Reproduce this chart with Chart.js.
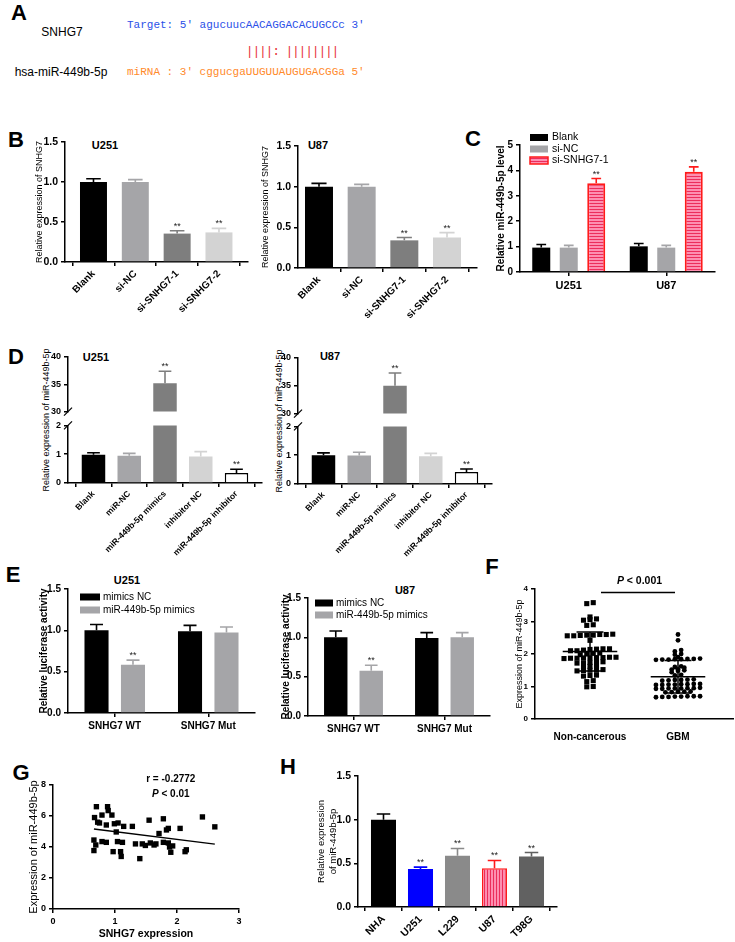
<!DOCTYPE html>
<html>
<head>
<meta charset="utf-8">
<title>SNHG7 / miR-449b-5p</title>
<script src="https://cdn.jsdelivr.net/npm/chart.js@4.4.1/dist/chart.umd.min.js"></script>
<style>
  html, body { margin: 0; padding: 0; background: #fff; }
  body { position: relative; width: 735px; height: 942px; overflow: hidden; font-family: 'Liberation Sans', Arial, sans-serif; color: #000; }
  canvas { position: absolute; }
  .c { position: absolute; transform: translate(-50%, -50%); white-space: nowrap; line-height: 1; }
  .m { position: absolute; transform: translateY(-50%); white-space: pre; line-height: 1; font-family: 'Liberation Mono', 'DejaVu Sans Mono', monospace; font-size: 11px; }
  .letter { font-weight: bold; font-size: 22px; }
  .sub { font-weight: bold; font-size: 11px; }
  .yt { font-size: 9px; transform: translate(-50%, -50%) rotate(-90deg); }
</style>
</head>
<body>
<!-- panel letters -->
<div class="c letter" style="left:19px;top:13px">A</div>
<div class="c letter" style="left:16px;top:140px">B</div>
<div class="c letter" style="left:473px;top:139px">C</div>
<div class="c letter" style="left:16px;top:357px">D</div>
<div class="c letter" style="left:13px;top:575px">E</div>
<div class="c letter" style="left:492px;top:567px">F</div>
<div class="c letter" style="left:21px;top:773px">G</div>
<div class="c letter" style="left:288px;top:767px">H</div>

<!-- A: binding site -->
<div class="c" style="left:62px;top:32px;font-size:12px">SNHG7</div>
<div class="c" style="left:61px;top:72px;font-size:12px">hsa-miR-449b-5p</div>
<div class="m" style="left:127px;top:25px;color:#2b50e8">Target: 5' agucuucAACAGGACACUGCCc 3'</div>
<div class="m" style="left:245.8px;top:51px;color:#e8343c;font-size:13px;letter-spacing:-1.2px">||||: ||||||||</div>
<div class="m" style="left:127px;top:72px;color:#ff8a2b">miRNA : 3' cggucgaUUGUUAUGUGACGGa 5'</div>

<!-- sub titles -->
<div class="c sub" style="left:105px;top:145px">U251</div>
<div class="c sub" style="left:318px;top:145px">U87</div>
<div class="c sub" style="left:96px;top:357px">U251</div>
<div class="c sub" style="left:330px;top:356px">U87</div>
<div class="c sub" style="left:127px;top:580px">U251</div>
<div class="c sub" style="left:405px;top:590px">U87</div>

<!-- D axis titles (span both halves of the broken axis) -->
<div class="c yt" style="left:46px;top:420px">Relative expression of miR-449b-5p</div>
<div class="c yt" style="left:279px;top:421px">Relative expression of miR-449b-5p</div>

<script>
const FONT = "'Liberation Sans', Arial, Helvetica, sans-serif";
const BLACK = '#000000';

// ---------- values ----------
// B: SNHG7 after knock-down
const bLabels = ['Blank', 'si-NC', 'si-SNHG7-1', 'si-SNHG7-2'];
const bU251 = [1.0, 1.0, 0.355, 0.37];
const bU251Err = [0.04, 0.03, 0.035, 0.05];
const bU87 = [1.0, 1.0, 0.34, 0.375];
const bU87Err = [0.04, 0.028, 0.035, 0.06];
const bMarks = ['', '', '**', '**'];

// C: miR-449b-5p after knock-down
const cLabels = ['U251', 'U87'];
const cSeries = ['Blank', 'si-NC', 'si-SNHG7-1'];
const cBlank = [0.96, 1.01];
const cBlankErr = [0.12, 0.11];
const cSiNC = [0.96, 0.96];
const cSiNCErr = [0.09, 0.09];
const cSiSNHG7 = [3.49, 3.95];
const cSiSNHG7Err = [0.19, 0.19];
const cMarks = ['**', '**'];

// D: mimics / inhibitor
const dLabels = ['Blank', 'miR-NC', 'miR-449b-5p mimics', 'inhibitor NC', 'miR-449b-5p inhibitor'];
const dU251 = [0.98, 0.95, 35.2, 0.92, 0.345];
const dU251Err = [0.07, 0.08, 2.2, 0.17, 0.135];
const dU87 = [1.0, 0.99, 35.0, 0.965, 0.42];
const dU87Err = [0.08, 0.11, 2.3, 0.1, 0.1];
const dMarks = ['', '', '**', '', '**'];

// E: luciferase
const eLabels = ['SNHG7 WT', 'SNHG7 Mut'];
const eSeries = ['mimics NC', 'miR-449b-5p mimics'];
const eU251NC = [1.0, 0.99];
const eU251NCErr = [0.07, 0.07];
const eU251Mim = [0.585, 0.975];
const eU251MimErr = [0.055, 0.065];
const eU87NC = [1.0, 0.99];
const eU87NCErr = [0.08, 0.07];
const eU87Mim = [0.575, 1.0];
const eU87MimErr = [0.07, 0.06];
const eMimMarks = ['**', ''];

// F: tissue expression
const fGroups = ['Non-cancerous', 'GBM'];
const fNonCancerous = [3.58, 3.55, 3.14, 3.08, 3.06, 3.04, 2.9, 2.88,
  2.61, 2.6, 2.58, 2.57, 2.56, 2.56, 2.6, 2.58, 2.42,
  2.16, 2.15, 2.14, 2.12, 2.1, 2.16, 2.1, 2.03, 2.0, 1.98, 2.02,
  1.9, 1.89, 1.88, 1.87, 1.9, 1.86, 1.88, 1.89, 1.87,
  1.76, 1.74, 1.72, 1.75, 1.73, 1.63, 1.6, 1.62,
  1.5, 1.48, 1.52, 1.49, 1.5, 1.35, 1.32, 1.34, 1.18, 1.15, 0.99, 1.0];
const fGBM = [2.6, 2.42, 2.12, 2.08, 2.0, 1.98, 1.9,
  1.85, 1.84, 1.83, 1.85, 1.82, 1.84, 1.83, 1.86,
  1.62, 1.6, 1.58, 1.5, 1.52, 1.48, 1.53, 1.44, 1.36, 1.34,
  1.2, 1.22, 1.18, 1.21, 1.19, 1.2,
  1.08, 1.06, 1.07, 1.05, 1.08, 1.06, 1.07, 1.05,
  0.95, 0.94, 0.93, 0.96, 0.94, 0.95, 0.93, 0.94,
  0.84, 0.83, 0.85, 0.82, 0.84,
  0.7, 0.68, 0.69, 0.7, 0.67, 0.69, 0.68, 0.7];
const fMean = [2.08, 1.3];
const fSD = [0.6, 0.5];

// G: correlation
const gSNHG7 = [0.70, 0.67, 0.72, 0.79, 0.88, 0.89, 0.95, 0.86, 0.99, 1.05, 1.14, 1.28, 1.02, 0.66, 0.69, 0.66,
  0.79, 0.86, 0.97, 1.04, 1.12, 1.09, 1.10, 1.33, 1.40, 1.44, 1.49, 1.55, 1.57, 1.63, 1.66, 1.71,
  1.78, 1.78, 1.83, 1.86, 1.86, 1.88, 1.90, 1.93, 2.05, 2.13, 2.15, 2.41, 2.61, 0.75];
const gMiR = [6.60, 5.90, 5.60, 6.06, 6.60, 6.35, 6.06, 5.42, 5.50, 5.55, 5.33, 5.33, 4.97, 4.45, 4.13, 3.77,
  4.35, 4.30, 3.70, 4.35, 4.30, 3.70, 3.39, 4.20, 3.25, 4.20, 4.10, 5.73, 4.26, 4.13, 4.20, 4.87,
  5.82, 4.30, 5.10, 5.20, 4.26, 4.00, 3.66, 4.07, 5.20, 3.70, 3.82, 5.94, 5.30, 5.55];
const gFit = [-0.5, 5.49]; // slope, intercept of the drawn fit

// H: cell lines
const hLabels = ['NHA', 'U251', 'L229', 'U87', 'T98G'];
const hValues = [1.0, 0.434, 0.586, 0.445, 0.579];
const hErr = [0.065, 0.023, 0.084, 0.088, 0.045];
const hMarks = ['', '**', '**', '**', '**'];

// ---------- styles ----------
function stripes(vertical, light, dark) {
  const t = document.createElement('canvas');
  t.width = 3; t.height = 3;
  const g = t.getContext('2d');
  g.fillStyle = light; g.fillRect(0, 0, 3, 3);
  g.fillStyle = dark;
  if (vertical) g.fillRect(0, 0, 1, 3); else g.fillRect(0, 0, 3, 1);
  return g.createPattern(t, 'repeat');
}
const RED = '#ff1a1a';
const redH = stripes(false, '#fd8fb0', '#ec2d5c');
const redV = stripes(true, '#fd8fb0', '#ec2d5c');
const bColors = ['#000000', '#a5a5a8', '#7e7e7e', '#d3d3d3'];
const dColors = ['#000000', '#a5a5a8', '#7e7e7e', '#d3d3d3', '#ffffff'];
const dBorders = ['#000000', '#a5a5a8', '#7e7e7e', '#d3d3d3', '#000000'];
const dBorderW = [0, 0, 0, 0, 1.5];
const hColors = ['#000000', '#0000ff', '#8a8a8a', redV, '#616161'];
const hBorders = ['#000000', '#0000ff', '#8a8a8a', RED, '#616161'];
const hBorderW = [0, 0, 0, 1.5, 0];
const hErrColors = ['#000000', '#0000ff', '#8a8a8a', RED, '#616161'];

// ---------- plugins ----------
const errorBars = {
  id: 'errorBars',
  afterDatasetsDraw(chart) {
    const ctx = chart.ctx;
    chart.data.datasets.forEach((ds, di) => {
      if (!ds.errors) return;
      const meta = chart.getDatasetMeta(di);
      const ys = chart.scales[meta.yAxisID];
      meta.data.forEach((bar, i) => {
        const raw = ds.data[i];
        const v = typeof raw === 'object' ? raw.y : raw;
        const top = v + ds.errors[i];
        if (v < ys.min || top > ys.max) return;
        const y0 = ys.getPixelForValue(v), y1 = ys.getPixelForValue(top);
        const half = bar.width * 0.27;
        const col = Array.isArray(ds.errorColor) ? ds.errorColor[i] : ds.errorColor;
        ctx.save();
        ctx.strokeStyle = col;
        ctx.lineWidth = 1.6;
        ctx.beginPath();
        ctx.moveTo(bar.x, y0); ctx.lineTo(bar.x, y1);
        ctx.moveTo(bar.x - half, y1); ctx.lineTo(bar.x + half, y1);
        ctx.stroke();
        const mark = ds.marks && ds.marks[i];
        if (mark) {
          ctx.fillStyle = '#222';
          ctx.font = '9px ' + FONT;
          ctx.textAlign = 'center';
          ctx.textBaseline = 'alphabetic';
          ctx.fillText(mark, bar.x, y1 - 2);
        }
        ctx.restore();
      });
    });
  }
};
Chart.register(errorBars);

function legendPlugin(o) {
  return {
    id: 'boxLegend',
    afterDraw(chart) {
      const { ctx, chartArea: a } = chart;
      ctx.save();
      ctx.font = o.size + 'px ' + FONT;
      ctx.textBaseline = 'middle';
      ctx.textAlign = 'left';
      chart.data.datasets.forEach((ds, i) => {
        const x = a.left + o.x, y = a.top + o.y + i * o.gap;
        ctx.fillStyle = ds.backgroundColor;
        ctx.fillRect(x, y - o.box[1] / 2, o.box[0], o.box[1]);
        if (ds.borderWidth) {
          ctx.strokeStyle = ds.borderColor;
          ctx.lineWidth = 1.5;
          ctx.strokeRect(x, y - o.box[1] / 2, o.box[0], o.box[1]);
        }
        ctx.fillStyle = BLACK;
        ctx.fillText(ds.label, x + o.box[0] + o.pad, y);
      });
      ctx.restore();
    }
  };
}

function breakPlugin(edge) {
  return {
    id: 'axisBreak',
    afterDraw(chart) {
      const { ctx, chartArea: a } = chart;
      const y = edge === 'top' ? a.top : a.bottom;
      ctx.save();
      ctx.strokeStyle = BLACK;
      ctx.lineWidth = 1.2;
      ctx.beginPath();
      ctx.moveTo(a.left - 4, y + 4);
      ctx.lineTo(a.left + 4, y - 4);
      ctx.stroke();
      ctx.restore();
    }
  };
}

function meanSDPlugin(centers, means, sds, halfMean, halfSD) {
  return {
    id: 'meanSD',
    afterDatasetsDraw(chart) {
      const { ctx, scales: { x, y } } = chart;
      ctx.save();
      ctx.strokeStyle = BLACK;
      ctx.lineWidth = 1.5;
      centers.forEach((c, i) => {
        const xc = x.getPixelForValue(c);
        const ym = y.getPixelForValue(means[i]);
        const yt = y.getPixelForValue(means[i] + sds[i]);
        const yb = y.getPixelForValue(means[i] - sds[i]);
        ctx.beginPath();
        ctx.moveTo(x.getPixelForValue(c - halfMean), ym); ctx.lineTo(x.getPixelForValue(c + halfMean), ym);
        ctx.moveTo(xc, yt); ctx.lineTo(xc, yb);
        ctx.moveTo(x.getPixelForValue(c - halfSD), yt); ctx.lineTo(x.getPixelForValue(c + halfSD), yt);
        ctx.moveTo(x.getPixelForValue(c - halfSD), yb); ctx.lineTo(x.getPixelForValue(c + halfSD), yb);
        ctx.stroke();
      });
      ctx.restore();
    }
  };
}

function notesPlugin(texts, lines, size) {
  return {
    id: 'notes',
    afterDraw(chart) {
      const { ctx, scales: { x, y } } = chart;
      ctx.save();
      ctx.fillStyle = BLACK;
      ctx.strokeStyle = BLACK;
      ctx.lineWidth = 1.5;
      ctx.textBaseline = 'middle';
      ctx.textAlign = 'left';
      lines.forEach(l => {
        const py = y.getPixelForValue(l[2]);
        ctx.beginPath();
        ctx.moveTo(x.getPixelForValue(l[0]), py);
        ctx.lineTo(x.getPixelForValue(l[1]), py);
        ctx.stroke();
      });
      texts.forEach(t => {
        const fonts = t.parts.map(p => (p[1] ? 'italic ' : '') + 'bold ' + size + 'px ' + FONT);
        const widths = t.parts.map((p, i) => { ctx.font = fonts[i]; return ctx.measureText(p[0]).width; });
        let px = x.getPixelForValue(t.x) - widths.reduce((a, b) => a + b, 0) / 2;
        const py = y.getPixelForValue(t.y);
        t.parts.forEach((p, i) => { ctx.font = fonts[i]; ctx.fillText(p[0], px, py); px += widths[i]; });
      });
      ctx.restore();
    }
  };
}

// ---------- helpers ----------
function font(size, bold) { return { family: FONT, size, weight: bold ? 'bold' : 'normal' }; }
const axisLine = { color: BLACK, width: 1.5 };
const tickGrid = { drawOnChartArea: false, tickLength: 4, color: BLACK, lineWidth: 1.5 };

function yTitle(text, size, bold) {
  return { display: true, text, font: font(size, bold), color: BLACK, padding: 0 };
}
function yAxis(min, max, step, digits, size, title) {
  return {
    min, max,
    ticks: { stepSize: step, font: font(size, true), color: BLACK, padding: 3, callback: v => v.toFixed(digits) },
    grid: tickGrid,
    border: axisLine,
    title: title || { display: false }
  };
}
function xIndex(labels, range, size) {
  return {
    type: 'linear', min: range[0], max: range[1], offset: false,
    ticks: { stepSize: 1, includeBounds: false, autoSkip: false, minRotation: 45, maxRotation: 45,
             font: font(size, true), color: BLACK, padding: 2, callback: v => labels[v] ?? '' },
    grid: tickGrid,
    border: axisLine
  };
}
function xCategory(size) {
  return {
    ticks: { font: font(size, true), color: BLACK, padding: 3, maxRotation: 0, autoSkip: false },
    grid: Object.assign({ offset: false }, tickGrid),
    border: axisLine
  };
}

// box = [x, y, w, h] of the canvas, area = [left, top, right, bottom] of the plot area
function place(box, area, config) {
  const cv = document.createElement('canvas');
  cv.width = box[2]; cv.height = box[3];
  Object.assign(cv.style, { left: box[0] + 'px', top: box[1] + 'px', width: box[2] + 'px', height: box[3] + 'px' });
  document.body.appendChild(cv);
  const o = config.options;
  Object.assign(o, { responsive: false, animation: false, devicePixelRatio: 1, events: [] });
  o.layout = { autoPadding: false, padding: { left: 0, bottom: 0, top: area[1] - box[1], right: box[0] + box[2] - area[2] } };
  o.scales.x.afterFit = s => { s.height = box[1] + box[3] - area[3]; };
  o.scales.y.afterFit = s => { s.width = area[0] - box[0]; };
  o.plugins = Object.assign({ legend: { display: false }, tooltip: { enabled: false } }, o.plugins);
  return new Chart(cv, config);
}

function indexBars(box, area, c) {
  return place(box, area, {
    type: 'bar',
    data: { datasets: [{
      data: c.values.map((v, i) => ({ x: i, y: v })),
      backgroundColor: c.colors, borderColor: c.borders || c.colors, borderWidth: c.borderWidths || 0,
      barPercentage: c.barPct, categoryPercentage: 1, clip: 0,
      errors: c.errors, errorColor: c.errColors || c.colors, marks: c.marks
    }] },
    options: { scales: { x: xIndex(c.labels, c.range, c.labelSize), y: c.y } }
  });
}

function groupDs(label, values, errors, color, pct, extra) {
  return Object.assign({
    label, data: values, backgroundColor: color, borderColor: color, borderWidth: 0,
    barPercentage: pct[0], categoryPercentage: pct[1], clip: 0,
    errors, errorColor: color
  }, extra || {});
}

// column scatter: values that fall in the same row are spread symmetrically around the column
function columnRows(values, center, pxX, gap) {
  const order = values.map((v, i) => i).sort((a, b) => values[a] - values[b]);
  const rows = [];
  order.forEach(i => {
    const last = rows[rows.length - 1];
    if (last && values[i] - values[last[0]] <= 0.07) last.push(i); else rows.push([i]);
  });
  const out = new Array(values.length);
  rows.forEach(row => row.forEach((i, j) => {
    out[i] = { x: center + (j - (row.length - 1) / 2) * gap / pxX, y: values[i] };
  }));
  return out;
}

// ---------- B ----------
indexBars([34, 130, 222, 200], [65, 142, 248, 262], {
  labels: bLabels, values: bU251, errors: bU251Err, marks: bMarks, colors: bColors,
  range: [-0.681, 3.694], barPct: 0.645, labelSize: 10,
  y: yAxis(0, 1.5, 0.5, 1, 10.5, yTitle('Relative expression of SNHG7', 9))
});
indexBars([260, 130, 222, 200], [298, 146, 477, 268], {
  labels: bLabels, values: bU87, errors: bU87Err, marks: bMarks, colors: bColors,
  range: [-0.492, 3.703], barPct: 0.656, labelSize: 10,
  y: yAxis(0, 1.5, 0.5, 1, 10.5, yTitle('Relative expression of SNHG7', 9))
});

// ---------- C ----------
const cPct = [0.655, 0.846];
place([495, 125, 240, 175], [520, 145, 715, 272], {
  type: 'bar',
  data: { labels: cLabels, datasets: [
    groupDs(cSeries[0], cBlank, cBlankErr, '#000000', cPct),
    groupDs(cSeries[1], cSiNC, cSiNCErr, '#a5a5a8', cPct),
    groupDs(cSeries[2], cSiSNHG7, cSiSNHG7Err, redH, cPct, { borderColor: RED, borderWidth: 2, errorColor: RED, marks: cMarks })
  ] },
  options: { scales: { x: xCategory(11), y: yAxis(0, 5, 1, 0, 10, yTitle('Relative miR-449b-5p level', 10, true)) } },
  plugins: [legendPlugin({ x: 10, y: -7.5, gap: 11.5, box: [18, 7], pad: 4, size: 10.5 })]
});

// ---------- D (broken y axis: upper and lower part) ----------
function dPanel(bx, bw, area, values, errors) {
  const [l, r, ut, ub, lt, lb] = area;
  const range = [-0.713, 4.713];
  const ds = () => ({
    data: values.map((v, i) => ({ x: i, y: v })),
    backgroundColor: dColors, borderColor: dBorders, borderWidth: dBorderW,
    barPercentage: 0.657, categoryPercentage: 1, clip: 0,
    errors, errorColor: dBorders, marks: dMarks
  });
  place([bx, ut - 12, bw, ub - ut + 18], [l, ut, r, ub], {
    type: 'bar',
    data: { datasets: [ds()] },
    options: { scales: {
      x: { type: 'linear', min: range[0], max: range[1], offset: false, ticks: { display: false }, grid: { display: false }, border: { display: false } },
      y: yAxis(30, 40, 5, 0, 9)
    } },
    plugins: [breakPlugin('bottom')]
  });
  place([bx, lt - 8, bw, 140], [l, lt, r, lb], {
    type: 'bar',
    data: { datasets: [ds()] },
    options: { scales: { x: xIndex(dLabels, range, 8.5), y: yAxis(0, 2, 1, 0, 9) } },
    plugins: [breakPlugin('top')]
  });
}
dPanel(41, 226, [68, 262, 357, 414, 425, 483], dU251, dU251Err);
dPanel(272, 225, [298, 492, 358, 416, 426, 484], dU87, dU87Err);

// ---------- E ----------
const ePct = [0.66, 0.78];
place([38, 580, 222, 160], [68, 589, 255, 713], {
  type: 'bar',
  data: { labels: eLabels, datasets: [
    groupDs(eSeries[0], eU251NC, eU251NCErr, '#000000', ePct),
    groupDs(eSeries[1], eU251Mim, eU251MimErr, '#a5a5a8', ePct, { marks: eMimMarks })
  ] },
  options: { scales: { x: xCategory(10), y: yAxis(0, 1.5, 0.5, 1, 10, yTitle('Relative luciferase activity', 10, true)) } },
  plugins: [legendPlugin({ x: 12, y: 8, gap: 13, box: [20, 7], pad: 3, size: 10 })]
});
place([280, 585, 215, 160], [308, 598, 490, 716], {
  type: 'bar',
  data: { labels: eLabels, datasets: [
    groupDs(eSeries[0], eU87NC, eU87NCErr, '#000000', ePct),
    groupDs(eSeries[1], eU87Mim, eU87MimErr, '#a5a5a8', ePct, { marks: eMimMarks })
  ] },
  options: { scales: { x: xCategory(10), y: yAxis(0, 1.5, 0.5, 1, 10, yTitle('Relative luciferase activity', 10, true)) } },
  plugins: [legendPlugin({ x: 7, y: 5, gap: 12, box: [18, 7], pad: 3, size: 10 })]
});

// ---------- F ----------
const fArea = [535, 589, 733, 719];
const fX = [0.375, 2.625], fY = [0, 4];
const fPxX = (fArea[2] - fArea[0]) / (fX[1] - fX[0]);
place([514, 570, 221, 172], fArea, {
  type: 'scatter',
  data: { datasets: [
    { data: columnRows(fNonCancerous, 1, fPxX, 6.5), pointStyle: 'rect', pointRadius: 3.6,
      pointBackgroundColor: BLACK, pointBorderColor: BLACK, pointBorderWidth: 0 },
    { data: columnRows(fGBM, 2, fPxX, 6.3), pointStyle: 'circle', pointRadius: 2.4,
      pointBackgroundColor: BLACK, pointBorderColor: BLACK, pointBorderWidth: 0 }
  ] },
  options: { scales: {
    x: { type: 'linear', min: fX[0], max: fX[1],
         ticks: { stepSize: 1, includeBounds: false, autoSkip: false, maxRotation: 0, font: font(10, true), color: BLACK, padding: 4,
                  callback: v => fGroups[v - 1] ?? '' },
         grid: { display: false }, border: axisLine },
    y: yAxis(fY[0], fY[1], 1, 0, 8, yTitle('Expression of miR-449b-5p', 9))
  } },
  plugins: [
    meanSDPlugin([1, 2], fMean, fSD, 0.31, 0.153),
    notesPlugin([{ x: 1.5625, y: 4.25, parts: [['P', true], [' < 0.001', false]] }], [[1.125, 1.966, 3.89]], 10.5)
  ]
});

// ---------- G ----------
const gLo = Math.min(...gSNHG7), gHi = Math.max(...gSNHG7);
place([27, 765, 222, 177], [53, 785, 239, 909], {
  type: 'scatter',
  data: { datasets: [
    { data: gSNHG7.map((x, i) => ({ x, y: gMiR[i] })), pointStyle: 'rect', pointRadius: 3.8,
      pointBackgroundColor: BLACK, pointBorderColor: BLACK, pointBorderWidth: 0 },
    { type: 'line', data: [gLo, gHi].map(x => ({ x, y: gFit[0] * x + gFit[1] })),
      borderColor: BLACK, borderWidth: 1.4, pointRadius: 0, fill: false }
  ] },
  options: { scales: {
    x: { type: 'linear', min: 0, max: 3,
         ticks: { stepSize: 1, font: font(9, true), color: BLACK, padding: 3 },
         grid: tickGrid, border: axisLine,
         title: { display: true, text: 'SNHG7 expression', font: font(10.5, true), color: BLACK, padding: { top: 0, bottom: 2 } } },
    y: yAxis(0, 8, 2, 0, 9, yTitle('Expression of miR-449b-5p', 11))
  } },
  plugins: [notesPlugin([
    { x: 1.9, y: 8.39, parts: [['r = -0.2772', false]] },
    { x: 1.9, y: 7.42, parts: [['P', true], [' < 0.01', false]] }
  ], [], 10)]
});

// ---------- H ----------
indexBars([316, 760, 250, 182], [358, 776, 557, 907], {
  labels: hLabels, values: hValues, errors: hErr, marks: hMarks,
  colors: hColors, borders: hBorders, borderWidths: hBorderW, errColors: hErrColors,
  range: [-0.689, 4.689], barPct: 0.676, labelSize: 10.5,
  y: yAxis(0, 1.5, 0.5, 1, 10.5, yTitle(['Relative expression', 'of miR-449b-5p'], 9.5))
});
</script>
</body>
</html>
